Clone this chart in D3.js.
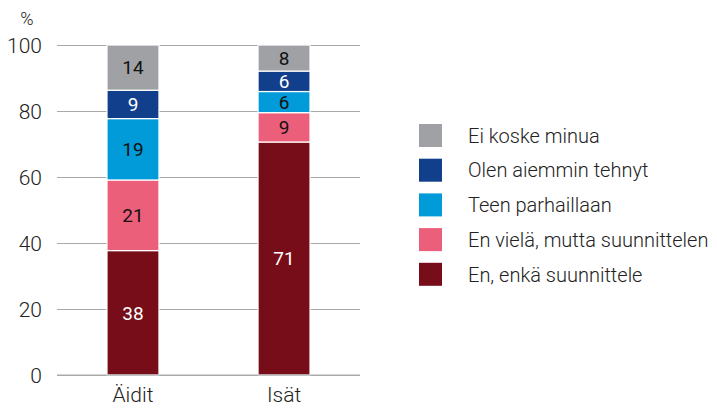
<!DOCTYPE html>
<html>
<head>
<meta charset="utf-8">
<script src="https://cdn.jsdelivr.net/npm/d3@7"></script>
<style>
  html, body { margin: 0; padding: 0; background: #fff; }
  svg text { font-family: "Roboto", "Noto Sans", sans-serif; }
</style>
</head>
<body>
<div id="chart"></div>
<script>
// categories and series (bottom to top)
const groups = ['Äidit', 'Isät'];
const seriesNames = ['En, enkä suunnittele', 'En vielä, mutta suunnittelen', 'Teen parhaillaan', 'Olen aiemmin tehnyt', 'Ei koske minua'];
const seriesColors = ['#760d19', '#ec5f7a', '#009bd8', '#123f8c', '#9fa1a4'];
const labelColors = ['#fff', '#111', '#111', '#fff', '#111'];
// segment heights (labels are rounded)
const aiditValues = [37.7, 21.4, 18.6, 8.6, 13.7];
const isatValues = [70.6, 8.9, 6.4, 6.2, 7.9];
const yTicks = [0, 20, 40, 60, 80, 100];

const width = 717, height = 410;
const margin = { top: 45, right: 357, bottom: 35, left: 57 };

const rows = groups.map((g, i) => {
  const vals = i === 0 ? aiditValues : isatValues;
  const row = { group: g };
  seriesNames.forEach((s, j) => { row[s] = vals[j]; });
  return row;
});

const svg = d3.select('#chart').append('svg')
  .attr('width', width)
  .attr('height', height);

const x = d3.scaleBand()
  .domain(groups)
  .range([margin.left, width - margin.right])
  .paddingInner(0.656)
  .paddingOuter(0.331);

const y = d3.scaleLinear()
  .domain([0, 100])
  .range([height - margin.bottom, margin.top]);

// Gridlines + ticks
const yAxis = svg.append('g')
  .attr('transform', `translate(${margin.left},0)`)
  .call(d3.axisLeft(y).tickValues(yTicks).tickSize(-(width - margin.right - margin.left)).tickPadding(15));
yAxis.select('.domain').remove();
yAxis.selectAll('.tick line').attr('stroke', '#a9a9a9').attr('stroke-width', 1.2);
yAxis.selectAll('.tick text')
  .attr('fill', '#222')
  .attr('font-size', '21px')
  .attr('font-weight', 300)
  .attr('dy', '0.35em');

svg.append('text')
  .attr('x', 27)
  .attr('y', 25)
  .attr('text-anchor', 'middle')
  .attr('fill', '#222')
  .attr('font-size', '18px')
  .attr('font-weight', 300)
  .text('%');

// Stacked bars
const stacked = d3.stack().keys(seriesNames)(rows);

const layer = svg.selectAll('.layer')
  .data(stacked)
  .enter()
  .append('g')
  .attr('class', 'layer')
  .attr('fill', (d, i) => seriesColors[i]);

layer.selectAll('rect')
  .data(d => d)
  .enter()
  .append('rect')
  .attr('x', d => x(d.data.group))
  .attr('width', x.bandwidth())
  .attr('y', d => y(d[1]))
  .attr('height', d => y(d[0]) - y(d[1]))
  .attr('stroke', '#fff')
  .attr('stroke-width', 1.2);

// Segment labels
stacked.forEach((s, i) => {
  svg.selectAll(null)
    .data(s)
    .enter()
    .append('text')
    .attr('x', d => x(d.data.group) + x.bandwidth() / 2)
    .attr('y', d => (y(d[0]) + y(d[1])) / 2)
    .attr('dy', '0.36em')
    .attr('text-anchor', 'middle')
    .attr('fill', labelColors[i])
    .attr('font-size', '19px')
    .text(d => Math.round(d[1] - d[0]));
});

// X axis
const xAxis = svg.append('g')
  .attr('transform', `translate(0,${height - margin.bottom})`)
  .call(d3.axisBottom(x).tickSize(0).tickPadding(12));
xAxis.select('.domain')
  .attr('stroke', '#a9a9a9')
  .attr('stroke-width', 1.2)
  .attr('d', `M${margin.left},0H${width - margin.right}`);
xAxis.selectAll('text')
  .attr('fill', '#222')
  .attr('font-size', '21px')
  .attr('font-weight', 300);

// Legend (top to bottom reversed)
const legendItems = seriesNames.map((s, i) => ({ name: s, color: seriesColors[i] })).reverse();
const legend = svg.append('g')
  .attr('transform', 'translate(419,124)');

const item = legend.selectAll('g')
  .data(legendItems)
  .enter()
  .append('g')
  .attr('transform', (d, i) => `translate(0,${i * 34.7})`);

item.append('rect')
  .attr('width', 23)
  .attr('height', 23)
  .attr('fill', d => d.color);

item.append('text')
  .attr('x', 49)
  .attr('y', 11.5)
  .attr('dy', '0.36em')
  .attr('fill', '#222')
  .attr('font-size', '20px')
  .attr('font-weight', 300)
  .text(d => d.name);
</script>
</body>
</html>
